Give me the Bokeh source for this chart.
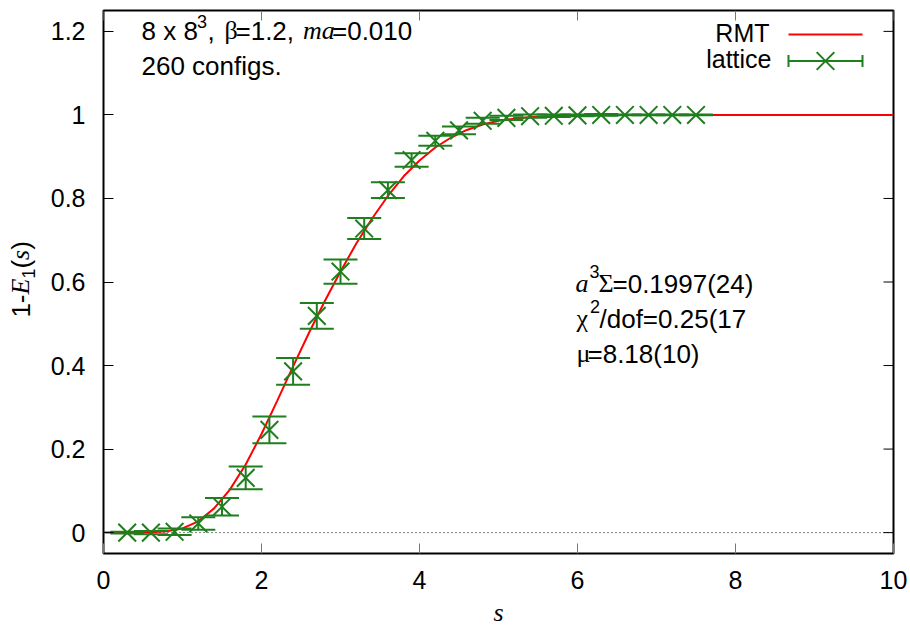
from bokeh.plotting import figure
from bokeh.layouts import row, column
from bokeh.models import (Range1d, FixedTicker, Label, Whisker,
                          TeeHead, ColumnDataSource, Span)
from bokeh.embed import file_html
from bokeh.resources import INLINE

# ---------------- data ----------------
s_lattice = [0.3, 0.6, 0.9, 1.2, 1.5, 1.8, 2.1, 2.4, 2.7, 3.0, 3.3, 3.6, 3.9,
             4.2, 4.5, 4.8, 5.1, 5.4, 5.7, 6.0, 6.3, 6.6, 6.9, 7.2, 7.5]
y_lattice = [0.0, 0.0, 0.002, 0.022, 0.062, 0.131, 0.246, 0.386, 0.519, 0.625,
             0.728, 0.820, 0.892, 0.938, 0.963, 0.986, 0.993, 0.997, 0.998,
             0.999, 1.0, 1.0, 1.0, 1.0, 1.0]
err_lattice = [0.002, 0.004, 0.008, 0.015, 0.021, 0.027, 0.032, 0.032, 0.031,
               0.029, 0.025, 0.019, 0.016, 0.012, 0.009, 0.007, 0.005, 0.004,
               0.003, 0.002, 0.002, 0.001, 0.001, 0.001, 0.001]

s_rmt = [0.0, 0.3, 0.6, 0.8, 1.0, 1.2, 1.4, 1.6, 1.8, 2.0, 2.2, 2.4, 2.6, 2.8,
         3.0, 3.2, 3.4, 3.6, 3.8, 4.0, 4.2, 4.4, 4.6, 4.8, 5.0, 5.3, 5.6, 6.0,
         6.5, 7.0, 8.0, 10.0]
y_rmt = [0.0, 0.0, 0.0008, 0.003, 0.010, 0.027, 0.058, 0.103, 0.163, 0.236,
         0.316, 0.398, 0.478, 0.554, 0.625, 0.692, 0.752, 0.806, 0.853, 0.891,
         0.922, 0.946, 0.964, 0.977, 0.986, 0.993, 0.997, 0.999, 1.0, 1.0,
         1.0, 1.0]

x_ticks = [0, 2, 4, 6, 8, 10]
x_tick_labels = ["0", "2", "4", "6", "8", "10"]
y_ticks = [0, 0.2, 0.4, 0.6, 0.8, 1.0, 1.2]
y_tick_labels = ["0", "0.2", "0.4", "0.6", "0.8", "1", "1.2"]

# ---------------- layout ----------------
X0, X1 = 0.0, 10.0
Y0, Y1 = -0.05, 1.25
W, H = 910, 629
LW = 40                                  # strip holding the rotated y title
BH = 30                                  # strip holding the x title
FL, FT, FW, FH = 103, 10, 790, 543      # frame in picture pixels
MAIN_H = H - BH
TICK = 10                                # tick length in px
SHIFT = 0.42                             # label baseline correction (em)

def px2x(px):
    return X0 + (px - FL) / FW * (X1 - X0)

def py2y(py):
    return Y1 - (py - FT) / FH * (Y1 - Y0)

GREEN = "#1f7f1f"
RED = "#ff0000"
SANS = "Liberation Sans"
SERIF = "Liberation Serif"

def strip(w, h, top):
    f = figure(frame_width=w, frame_height=h, x_range=Range1d(0, w),
               y_range=Range1d(top + h, top), x_axis_type=None, y_axis_type=None,
               output_backend="svg", toolbar_location=None,
               min_border=0, min_border_left=0, min_border_right=0,
               min_border_top=0, min_border_bottom=0)
    f.outline_line_color = None
    f.background_fill_color = "white"
    f.border_fill_color = "white"
    return f

# ---------------- strip with the rotated y title ----------------
ystrip = strip(LW, MAIN_H, 0)

def vlab(px, py_top, text, font=SANS, size=26, style="normal"):
    # rotated 90 deg, right-aligned: the piece ends (upwards) at py_top
    ystrip.add_layout(Label(x=px - SHIFT * size, y=py_top, text=text,
                            text_font=font, text_font_size=f"{size}px",
                            text_font_style=style, text_align="right",
                            text_baseline="alphabetic", text_color="black",
                            angle=90, angle_units="deg"))

vlab(31, 284.0, "1-")
vlab(31, 268.1, "E", font=SERIF, style="italic")
vlab(36, 258.1, "1", size=18)
vlab(31, 249.4, "(")
vlab(31, 239.3, "s", font=SERIF, style="italic")
vlab(31, 230.6, ")")

# ---------------- strip with the x title ----------------
xstrip = strip(W, BH, MAIN_H)
xstrip.add_layout(Label(x=498, y=623 - SHIFT * 26, text="s", text_font=SERIF,
                        text_font_size="26px", text_font_style="italic",
                        text_align="center", text_baseline="alphabetic",
                        text_color="black"))

# ---------------- main plot ----------------
p = figure(frame_width=FW, frame_height=FH,
           x_range=Range1d(X0, X1), y_range=Range1d(Y0, Y1),
           output_backend="svg", toolbar_location=None,
           min_border_left=FL - LW, min_border_top=FT,
           min_border_right=W - FL - FW,
           min_border_bottom=MAIN_H - FT - FH)
p.background_fill_color = "white"
p.border_fill_color = "white"
p.outline_line_color = "black"
p.outline_line_width = 2
p.xgrid.visible = False
p.ygrid.visible = False

p.xaxis.ticker = FixedTicker(ticks=x_ticks)
p.xaxis.major_label_overrides = {t: l for t, l in zip(x_ticks, x_tick_labels)}
p.yaxis.ticker = FixedTicker(ticks=y_ticks)
p.yaxis.major_label_overrides = {t: l for t, l in zip(y_ticks, y_tick_labels)}
for ax, col in ((p.xaxis[0], "#777777"), (p.yaxis[0], "black")):
    ax.axis_line_color = None
    ax.major_tick_in = TICK
    ax.major_tick_out = 0
    ax.major_tick_line_color = col
    ax.major_tick_line_width = 1
    ax.minor_tick_line_color = None
    ax.major_label_text_font = SANS
    ax.major_label_text_font_size = "25px"
    ax.major_label_text_color = "black"
p.xaxis.major_label_standoff = 17
p.yaxis.major_label_standoff = 18

# mirrored ticks on top and right edges
dy_tick = TICK / FH * (Y1 - Y0)
dx_tick = TICK / FW * (X1 - X0)
p.segment(x0=x_ticks, y0=[Y1] * len(x_ticks), x1=x_ticks,
          y1=[Y1 - dy_tick] * len(x_ticks), line_color="#777777", line_width=1)
p.segment(x0=[X1] * len(y_ticks), y0=y_ticks, x1=[X1 - dx_tick] * len(y_ticks),
          y1=y_ticks, line_color="black", line_width=1)

# zero axis
p.add_layout(Span(location=0, dimension="width", line_color="black",
                  line_width=1, line_dash="1 3", level="underlay"))

# RMT curve
p.line(s_rmt, y_rmt, line_color=RED, line_width=2)

# lattice data with error bars
lower = [y - e for y, e in zip(y_lattice, err_lattice)]
upper = [y + e for y, e in zip(y_lattice, err_lattice)]
src = ColumnDataSource(dict(s=s_lattice, y=y_lattice, lo=lower, up=upper))
wh = Whisker(base="s", lower="lo", upper="up", source=src,
             line_color=GREEN, line_width=2, level="glyph",
             upper_head=TeeHead(size=34, line_color=GREEN, line_width=2),
             lower_head=TeeHead(size=34, line_color=GREEN, line_width=2))
p.add_layout(wh)
p.scatter("s", "y", source=src, marker="x", size=25,
          line_color=GREEN, line_width=2)

def lab(px, py, text, font=SANS, size=25, style="normal", align="left"):
    p.add_layout(Label(x=px2x(px), y=py2y(py - SHIFT * size), text=text,
                       text_font=font, text_font_size=f"{size}px",
                       text_font_style=style, text_align=align,
                       text_baseline="alphabetic", text_color="black"))

# legend (gnuplot style: text left, sample right)
lab(769, 43, "RMT", align="right")
lab(771, 69, "lattice", align="right")
p.segment(x0=[px2x(788)], y0=[py2y(34)], x1=[px2x(862)], y1=[py2y(34)],
          line_color=RED, line_width=2)
p.segment(x0=[px2x(788)], y0=[py2y(60.5)], x1=[px2x(862)], y1=[py2y(60.5)],
          line_color=GREEN, line_width=2)
p.segment(x0=[px2x(788), px2x(862)], y0=[py2y(54.5), py2y(54.5)],
          x1=[px2x(788), px2x(862)], y1=[py2y(66.5), py2y(66.5)],
          line_color=GREEN, line_width=2)
p.scatter(x=[px2x(825)], y=[py2y(60.5)], marker="x", size=25,
          line_color=GREEN, line_width=2)

# title block
lab(141, 41, "8 x 8", size=26)
lab(196.5, 28.5, "3", size=18)
lab(207, 41, ",", size=26)
lab(224, 41, "\u03b2", font=SERIF, size=26)
lab(235, 41, "=1.2,", size=26)
lab(302.5, 41, "ma", font=SERIF, size=26, style="italic")
lab(331.5, 41, "=0.010", size=26)
lab(141, 76, "260 configs.", size=26)

# fit results
lab(575, 294, "a", font=SERIF, size=26, style="italic")
lab(589, 279, "3", size=18)
lab(598, 294, "\u03a3", font=SERIF, size=26)
lab(612, 294, "=0.1997(24)", size=26)
lab(576, 329, "\u03c7", font=SERIF, size=26)
lab(589.5, 314, "2", size=18)
lab(599, 329, "/dof=0.25(17", size=26)
lab(576, 364, "\u03bc", font=SERIF, size=26)
lab(587, 364, "=8.18(10)", size=26)

layout = column(row(ystrip, p), xstrip)
open("out.html", "w").write(file_html(layout, INLINE))
